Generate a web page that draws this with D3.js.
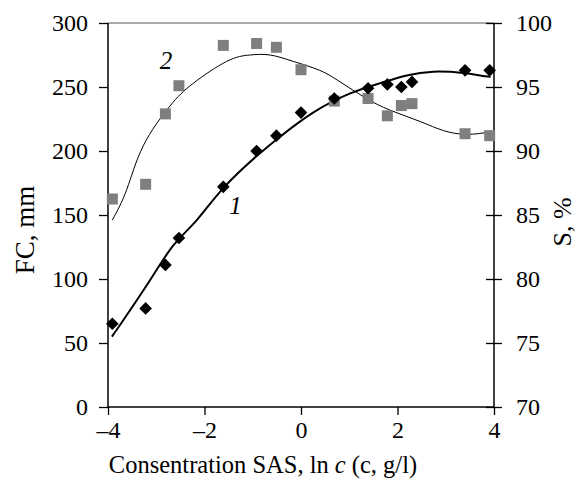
<!DOCTYPE html>
<html>
<head>
<meta charset="utf-8">
<script src="https://cdn.jsdelivr.net/npm/d3@7"></script>
<style>
  body { margin: 0; background: #fff; }
  svg text { font-family: "Liberation Serif", "Tinos", "DejaVu Serif", serif; fill: #000; }
</style>
</head>
<body>
<div id="chart"></div>
<script>
// ln c values of the measured concentrations
var lnC = [-3.91, -3.22, -2.81, -2.53, -1.61, -0.92, -0.51, 0, 0.69, 1.39, 1.79, 2.08, 2.30, 3.40, 3.91];
// series 1: FC, mm (black diamonds)
var fcValues = [65, 77, 111, 132, 172, 200, 212, 230, 241, 249, 252, 250, 254, 263, 263];
// series 2: S, % (grey squares)
var sValues = [86.25, 87.4, 92.9, 95.1, 98.25, 98.4, 98.1, 96.35, 93.9, 94.1, 92.75, 93.55, 93.7, 91.35, 91.2];

// trend line 1 (FC)
var trend1X = [-3.92, -3.68, -3.13, -2.65, -2.16, -1.61, -0.92, -0.44, 0.25, 1.02, 1.64, 2.19, 2.74, 3.36, 3.71, 3.93];
var trend1Y = [55, 68, 99, 126, 146, 171, 196, 211, 230, 245, 253, 259, 262, 261, 259, 258];
// trend line 2 (S)
var trend2X = [-3.91, -3.61, -3.27, -2.72, -2.23, -1.54, -1.06, -0.64, -0.16, 0.39, 0.81, 1.36, 1.84, 2.47, 2.95, 3.43, 3.93];
var trend2Y = [84.6, 87.0, 90.4, 93.5, 95.3, 97.0, 97.5, 97.5, 97.0, 96.3, 95.4, 94.1, 93.2, 92.3, 91.6, 91.3, 91.5];

var xTicks = [-4, -2, 0, 2, 4];
var fcTicks = [0, 50, 100, 150, 200, 250, 300];
var sTicks = [70, 75, 80, 85, 90, 95, 100];

// curve numbers: [text, ln c, FC]
var curveLabels = [["1", -1.36, 151], ["2", -2.80, 264]];

var serif = "'Liberation Serif', 'Tinos', 'DejaVu Serif', serif";

var margin = {top: 23, right: 82, bottom: 81, left: 108};
var width = 576 - margin.left - margin.right,
    height = 488 - margin.top - margin.bottom;

var svg = d3.select("#chart").append("svg")
    .attr("width", 576)
    .attr("height", 488)
  .append("g")
    .attr("transform", "translate(" + margin.left + "," + margin.top + ")");

var x = d3.scaleLinear().domain([-4, 4]).range([0, width]);
var yFC = d3.scaleLinear().domain([0, 300]).range([height, 0]);
var yS = d3.scaleLinear().domain([70, 100]).range([height, 0]);

var fmt = function(d) { return d < 0 ? "\u2013" + Math.abs(d) : String(d); };

// top border
svg.append("line")
    .attr("x1", 0).attr("x2", width)
    .attr("y1", 0).attr("y2", 0)
    .attr("stroke", "#8c8c8c")
    .attr("stroke-width", 1.5);

// x axis
var xAxis = svg.append("g")
    .attr("class", "x-axis")
    .attr("transform", "translate(0," + height + ")")
    .call(d3.axisBottom(x).tickValues(xTicks).tickFormat(fmt).tickSize(8).tickPadding(6));

// left axis
var yAxisL = svg.append("g")
    .attr("class", "y-axis")
    .call(d3.axisLeft(yFC).tickValues(fcTicks).tickSize(9).tickPadding(11));

// right axis, ticks cross the line
var yAxisR = svg.append("g")
    .attr("class", "y-axis-right")
    .attr("transform", "translate(" + width + ",0)")
    .call(d3.axisRight(yS).tickValues(sTicks).tickSize(8).tickPadding(14));
yAxisR.selectAll(".tick line").attr("x1", -8);

svg.selectAll("g").attr("font-family", null);
svg.selectAll(".domain").attr("stroke", "#000").attr("stroke-width", 1.5);
svg.selectAll(".x-axis .domain").attr("d", "M0,0H" + width);
svg.selectAll(".y-axis .domain").attr("d", "M0,0V" + height);
svg.selectAll(".y-axis-right .domain").attr("d", "M0,0V" + height);
svg.selectAll(".tick line").attr("stroke", "#000").attr("stroke-width", 1.3);
svg.selectAll(".tick text")
    .style("font-family", serif)
    .style("font-size", "24px");

// trend lines
var line1 = d3.line()
    .x(function(d, i) { return x(trend1X[i]); })
    .y(function(d) { return yFC(d); })
    .curve(d3.curveNatural);

var line2 = d3.line()
    .x(function(d, i) { return x(trend2X[i]); })
    .y(function(d) { return yS(d); })
    .curve(d3.curveNatural);

svg.append("path")
    .datum(trend2Y)
    .attr("fill", "none")
    .attr("stroke", "#000")
    .attr("stroke-width", 1)
    .attr("d", line2);

svg.append("path")
    .datum(trend1Y)
    .attr("fill", "none")
    .attr("stroke", "#000")
    .attr("stroke-width", 2)
    .attr("d", line1);

// grey squares (S)
svg.selectAll(".sq")
    .data(sValues)
  .enter().append("rect")
    .attr("class", "sq")
    .attr("x", function(d, i) { return x(lnC[i]) - 5.5; })
    .attr("y", function(d) { return yS(d) - 5.5; })
    .attr("width", 11)
    .attr("height", 11)
    .attr("fill", "#7f7f7f");

// black diamonds (FC)
var diamond = d3.symbol().type(d3.symbolSquare).size(80);
svg.selectAll(".dm")
    .data(fcValues)
  .enter().append("path")
    .attr("class", "dm")
    .attr("d", diamond)
    .attr("transform", function(d, i) {
        return "translate(" + x(lnC[i]) + "," + yFC(d) + ") rotate(45)";
    })
    .attr("fill", "#000");

// curve numbers
svg.selectAll(".curve-label")
    .data(curveLabels)
  .enter().append("text")
    .attr("class", "curve-label")
    .attr("x", function(d) { return x(d[1]); })
    .attr("y", function(d) { return yFC(d[2]); })
    .attr("text-anchor", "middle")
    .style("font-family", serif)
    .style("font-size", "25px")
    .style("font-style", "italic")
    .text(function(d) { return d[0]; });

// axis titles
var xTitle = svg.append("text")
    .attr("x", 263 - margin.left)
    .attr("y", height + 66)
    .attr("text-anchor", "middle")
    .style("font-family", serif)
    .style("font-size", "24.5px");
xTitle.append("tspan").text("Consentration SAS, ln ");
xTitle.append("tspan").style("font-style", "italic").text("c");
xTitle.append("tspan").text(" (c, g/l)");

svg.append("text")
    .attr("transform", "translate(" + (34 - margin.left) + "," + (230 - margin.top) + ") rotate(-90)")
    .attr("text-anchor", "middle")
    .style("font-family", serif)
    .style("font-size", "27px")
    .text("FC, mm");

svg.append("text")
    .attr("transform", "translate(" + (571 - margin.left) + "," + (222 - margin.top) + ") rotate(-90)")
    .attr("text-anchor", "middle")
    .style("font-family", serif)
    .style("font-size", "26px")
    .text("S, %");
</script>
</body>
</html>
